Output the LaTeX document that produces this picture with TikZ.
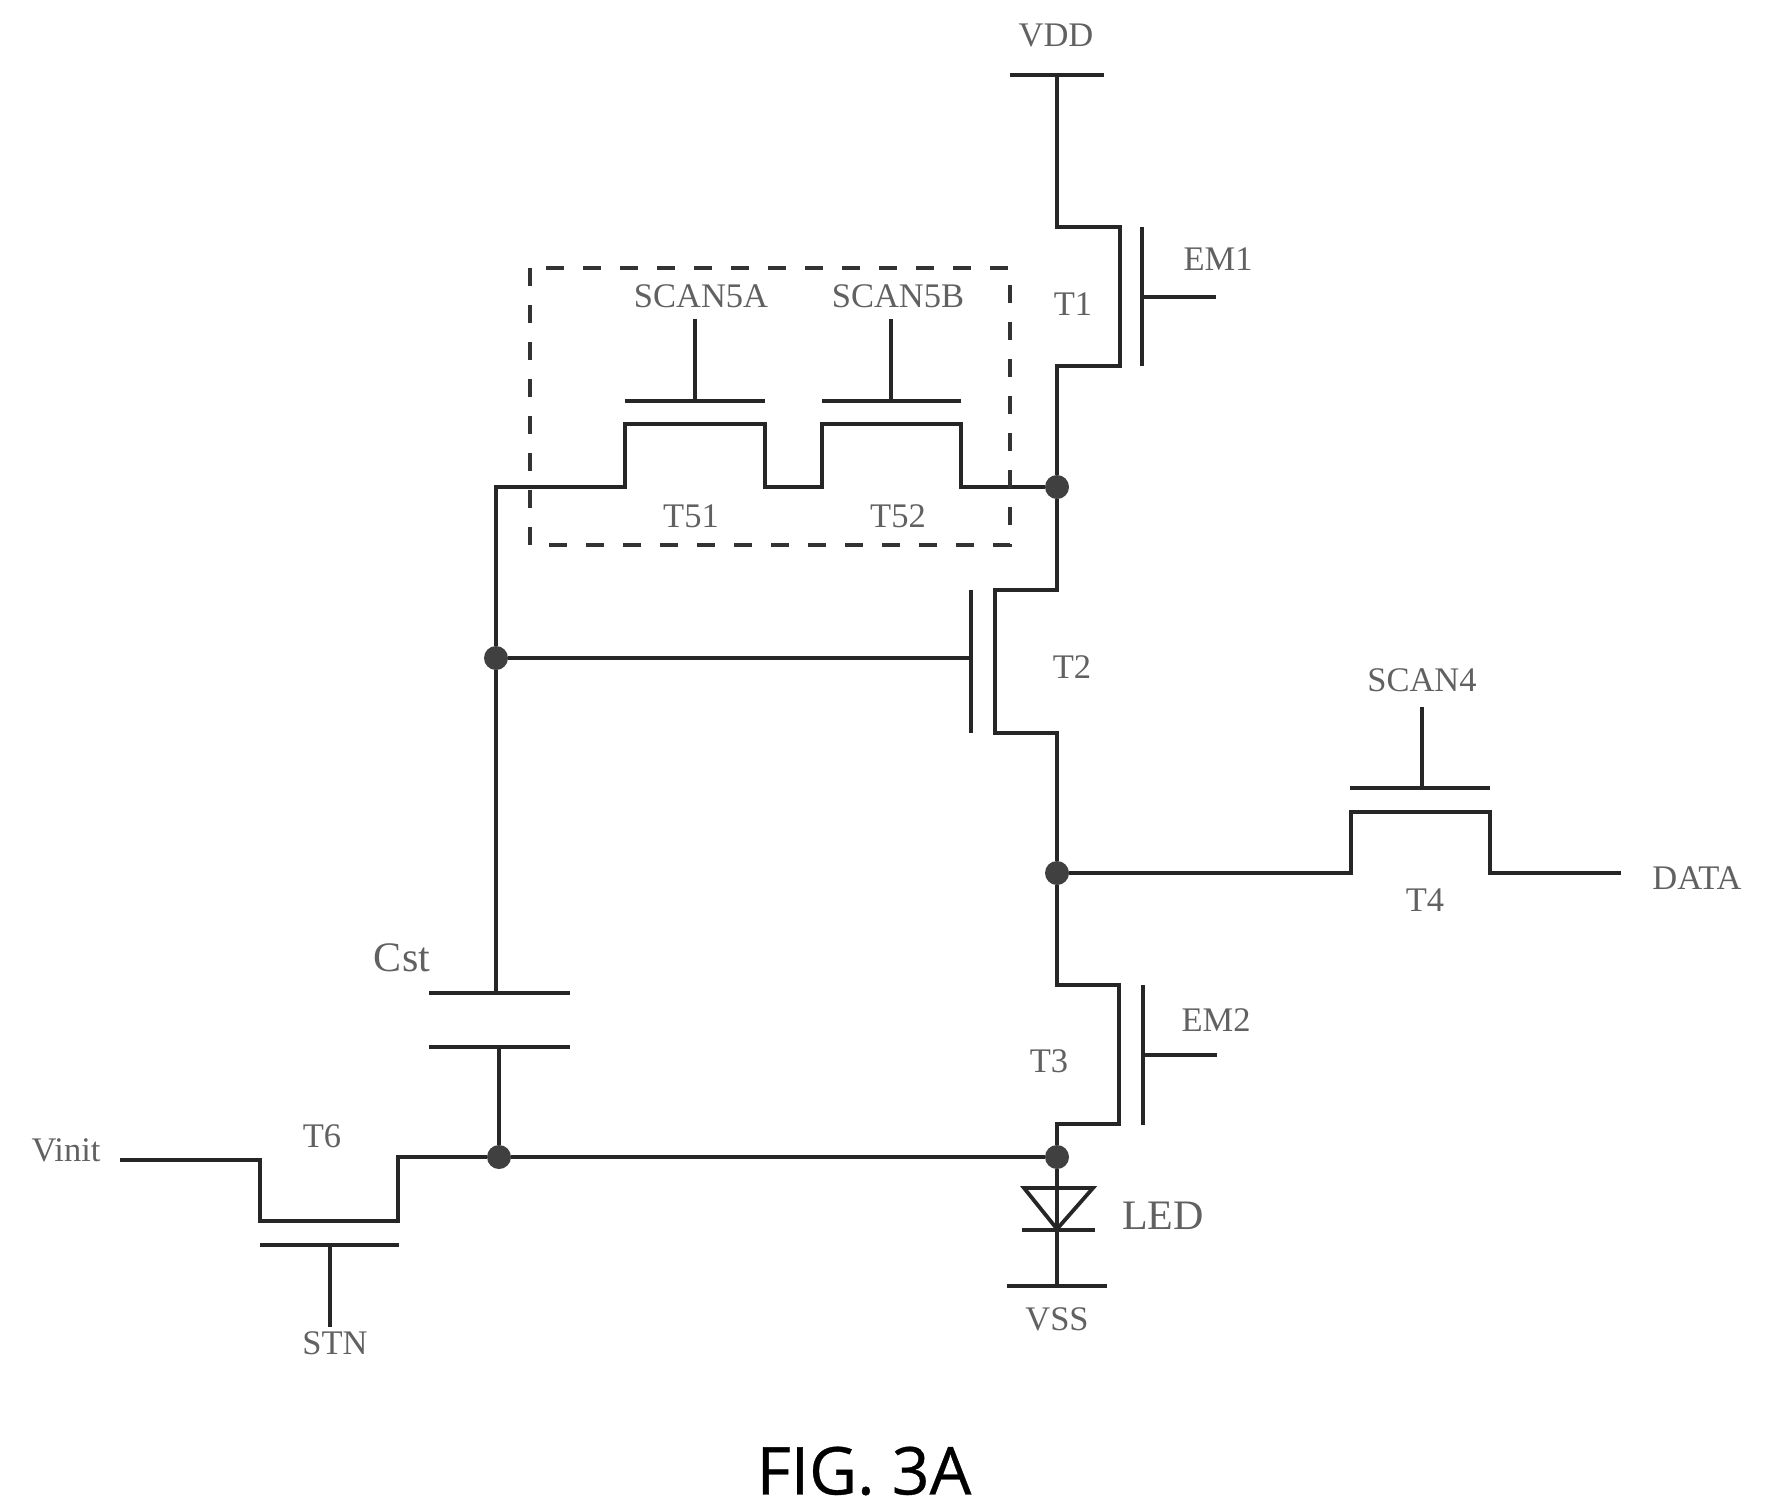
\documentclass[tikz,border=0pt]{standalone}
\usepackage{fontspec}
\setmainfont{Liberation Serif}
\newfontfamily\figfont[FakeBold=0.5]{Open Sans}
\tikzset{
  wire/.style={line width=2pt,black!85,line join=miter},
  plate/.style={line width=1.9pt,black!85},
  dot/.style={circle,fill=black!75,inner sep=0pt,minimum size=12pt},
  lab/.style={inner sep=0pt,text=black!62,font=\fontsize{17.25}{20}\selectfont},
  biglab/.style={inner sep=0pt,text=black!62,font=\fontsize{21}{24}\selectfont}
}

\begin{document}
\begin{tikzpicture}[x=0.5pt,y=-0.5pt]
  \useasboundingbox (0,0) rectangle (1769,1511);

  % junctions
  \node (n1) at (1057,487) [dot] {};
  \node (n2) at (496,658) [dot] {};
  \node (n3) at (1057,873) [dot] {};
  \node (n4) at (1057,1157) [dot] {};
  \node (n5) at (499,1157) [dot] {};

  % supply rails and free ends
  \coordinate (vddl) at (1010,75);
  \coordinate (vddr) at (1104,75);
  \coordinate (vdd) at (1057,75);
  \coordinate (vssl) at (1007,1286);
  \coordinate (vssr) at (1107,1286);
  \coordinate (vss) at (1057,1286);
  \coordinate (vin) at (120,1160);
  \coordinate (dat) at (1621,873);

  % T1
  \coordinate (t1a) at (1057,227);
  \coordinate (t1b) at (1120,227);
  \coordinate (t1c) at (1120,366);
  \coordinate (t1d) at (1057,366);
  \coordinate (g1a) at (1142,227);
  \coordinate (g1b) at (1142,366);
  \coordinate (g1c) at (1142,297);
  \coordinate (g1d) at (1216,297);
  % T2
  \coordinate (t2a) at (1057,590);
  \coordinate (t2b) at (995,590);
  \coordinate (t2c) at (995,733);
  \coordinate (t2d) at (1057,733);
  \coordinate (g2a) at (971,590);
  \coordinate (g2b) at (971,733);
  \coordinate (g2c) at (971,658);
  % T3
  \coordinate (t3a) at (1057,985);
  \coordinate (t3b) at (1119,985);
  \coordinate (t3c) at (1119,1124);
  \coordinate (t3d) at (1057,1124);
  \coordinate (g3a) at (1143,985);
  \coordinate (g3b) at (1143,1125);
  \coordinate (g3c) at (1143,1055);
  \coordinate (g3d) at (1217,1055);
  % T4
  \coordinate (t4a) at (1351,873);
  \coordinate (t4b) at (1351,812);
  \coordinate (t4c) at (1490,812);
  \coordinate (t4d) at (1490,873);
  \coordinate (g4a) at (1350,788);
  \coordinate (g4b) at (1490,788);
  \coordinate (g4c) at (1422,788);
  \coordinate (g4d) at (1422,707);
  % T51, T52
  \coordinate (s0) at (496,487);
  \coordinate (s1) at (625,487);
  \coordinate (s2) at (625,424);
  \coordinate (s3) at (765,424);
  \coordinate (s4) at (765,487);
  \coordinate (s5) at (822,487);
  \coordinate (s6) at (822,424);
  \coordinate (s7) at (961,424);
  \coordinate (s8) at (961,487);
  \coordinate (g5a) at (625,401);
  \coordinate (g5b) at (765,401);
  \coordinate (g5c) at (695,401);
  \coordinate (g5d) at (695,319);
  \coordinate (g6a) at (822,401);
  \coordinate (g6b) at (961,401);
  \coordinate (g6c) at (891,401);
  \coordinate (g6d) at (891,319);
  % T6
  \coordinate (t6a) at (260,1160);
  \coordinate (t6b) at (260,1221);
  \coordinate (t6c) at (398,1221);
  \coordinate (t6d) at (398,1157);
  \coordinate (g7a) at (260,1245);
  \coordinate (g7b) at (399,1245);
  \coordinate (g7c) at (330,1245);
  \coordinate (g7d) at (330,1327);
  % Cst
  \coordinate (c1a) at (429,993);
  \coordinate (c1b) at (570,993);
  \coordinate (c1c) at (496,993);
  \coordinate (c2a) at (429,1047);
  \coordinate (c2b) at (570,1047);
  \coordinate (c2c) at (499,1047);
  % LED
  \coordinate (d1) at (1024,1188);
  \coordinate (d2) at (1093,1188);
  \coordinate (d3) at (1057,1229);
  \coordinate (d4) at (1022,1230);
  \coordinate (d5) at (1095,1230);

  \draw [wire] (vdd) to (t1a) to (t1b) to (t1c) to (t1d) to (n1);
  \draw [wire] (n1) to (t2a) to (t2b) to (t2c) to (t2d) to (n3);
  \draw [wire] (n3) to (t3a) to (t3b) to (t3c) to (t3d) to (n4);
  \draw [wire] (n4) to (vss);
  \draw [wire] (n3) to (t4a) to (t4b) to (t4c) to (t4d) to (dat);
  \draw [wire] (n1) to (s8) to (s7) to (s6) to (s5) to (s4) to (s3) to (s2) to (s1) to (s0) to (n2);
  \draw [wire] (n2) to (c1c);
  \draw [wire] (n2) to (g2c);
  \draw [wire] (c2c) to (n5);
  \draw [wire] (n4) to (n5) to (t6d) to (t6c) to (t6b) to (t6a) to (vin);

  \draw [plate] (vddl) to (vddr);
  \draw [plate] (vssl) to (vssr);
  \draw [plate] (g1a) to (g1b);
  \draw [plate] (g1c) to (g1d);
  \draw [plate] (g2a) to (g2b);
  \draw [plate] (g3a) to (g3b);
  \draw [plate] (g3c) to (g3d);
  \draw [plate] (g4a) to (g4b);
  \draw [plate] (g4c) to (g4d);
  \draw [plate] (g5a) to (g5b);
  \draw [plate] (g5c) to (g5d);
  \draw [plate] (g6a) to (g6b);
  \draw [plate] (g6c) to (g6d);
  \draw [plate] (g7a) to (g7b);
  \draw [plate] (g7c) to (g7d);
  \draw [plate] (c1a) to (c1b);
  \draw [plate] (c2a) to (c2b);
  \draw [plate] (d1) to (d2) to (d3) -- cycle;
  \draw [plate] (d4) to (d5);

  % dashed frame
  \coordinate (f1) at (530,268);
  \coordinate (f2) at (1010,545);
  \draw [line width=1.6pt,black!80,dash pattern=on 9pt off 9.5pt] (f1) rectangle (f2);

  % labels
  \node (lvdd) at (1056,35) [lab] {VDD};
  \node (lem1) at (1218,259) [lab] {EM1};
  \node (lt1) at (1073,304) [lab] {T1};
  \node (ls5a) at (701,296) [lab] {SCAN5A};
  \node (ls5b) at (898,296) [lab] {SCAN5B};
  \node (lt51) at (691,516) [lab] {T51};
  \node (lt52) at (898,516) [lab] {T52};
  \node (lt2) at (1072,667) [lab] {T2};
  \node (ls4) at (1422,680) [lab] {SCAN4};
  \node (lt4) at (1425,900) [lab] {T4};
  \node (ldat) at (1697,878) [lab] {DATA};
  \node (lem2) at (1216,1020) [lab] {EM2};
  \node (lt3) at (1049,1061) [lab] {T3};
  \node (lcst) at (402,958) [biglab] {Cst};
  \node (lt6) at (322,1136) [lab] {T6};
  \node (lvin) at (66,1150) [lab] {Vinit};
  \node (lled) at (1163,1216) [biglab] {LED};
  \node (lvss) at (1057,1319) [lab] {VSS};
  \node (lstn) at (335,1343) [lab] {STN};
  \node (lfig) at (864,1471) [inner sep=0pt,font=\figfont\fontsize{33}{38}\selectfont] {FIG. 3A};
\end{tikzpicture}
\end{document}
